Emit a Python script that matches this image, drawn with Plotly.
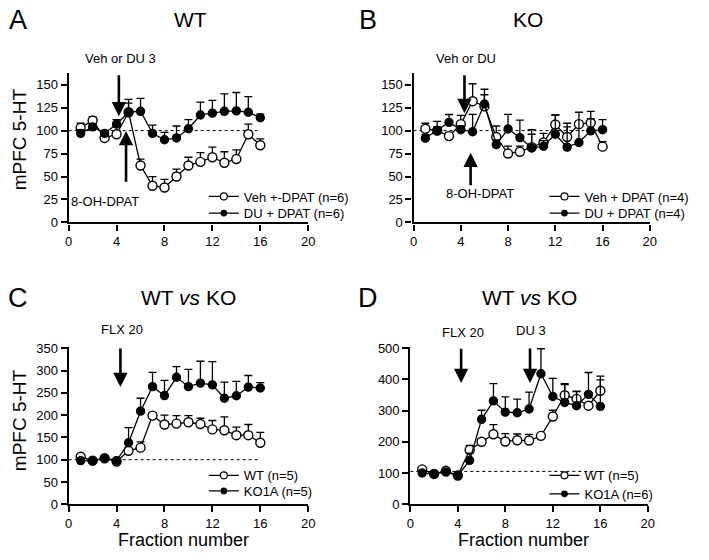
import plotly.graph_objects as go

W, H = 709, 560
FONT = "Arial, Liberation Sans, sans-serif"

fractions = list(range(1, 17))

# Panel A (WT)
vehA = [103, 111, 92, 96, 120, 62, 40, 38, 50, 62, 66, 71, 65, 69, 96, 84]
vehA_sem = [5, 4, 4, 4, 10, 7, 10, 9, 8, 9, 10, 11, 12, 10, 11, 7]
duA = [97, 104, 97, 107, 120, 121, 97, 90, 92, 102, 117, 119, 121, 121.5, 120, 114]
duA_sem = [4, 3, 3, 5, 14, 14, 9, 8, 13, 10, 14, 14, 19, 20, 17, 4]

# Panel B (KO)
vehB = [102, 100, 94, 107, 132, 126.5, 93, 75, 77, 82, 87, 106.6, 93, 107, 108.6, 82.5]
vehB_sem = [6, 10, 4, 9.5, 19, 18.5, 12, 8, 6, 14, 10, 10.4, 15, 3, 12.4, 5.5]
duB = [91.7, 100, 109, 101, 98.7, 129, 84.8, 101.7, 92.4, 81, 83, 96, 82, 87, 99.7, 101]
duB_sem = [4, 4, 8.5, 4, 19, 10, 5, 16, 19, 20, 6, 21, 22, 33, 13, 11]

# Panel C (WT vs KO, FLX 20)
wtC = [106.5, 98, 103, 96, 120, 127, 199, 179, 181, 184, 180, 168, 166, 155, 155, 138]
wtC_sem = [3, 3, 3, 3, 5, 13, 6, 21, 18, 15, 13, 20, 30, 18, 24, 23.5]
koC = [98, 97, 104, 98, 138, 209, 264, 244, 285, 264, 272, 268, 238, 243.5, 263, 261]
koC_sem = [3, 3, 3, 3, 34, 29, 32, 34, 24, 39, 49, 52, 36, 32.5, 26, 12]

# Panel D (WT vs KO, FLX 20 + DU 3)
wtD = [111.5, 97, 107, 92, 174, 200, 224, 201, 205, 204, 219, 281, 349, 337.5, 315.6, 363.5]
wtD_sem = [4, 4, 4, 4, 14.5, 10, 31, 25, 20, 20, 5, 20, 34, 23.5, 8, 47]
koD = [100, 97, 103, 92, 140.6, 272, 331, 295, 293, 305, 418, 345, 326, 315.6, 352, 313.5]
koD_sem = [4, 4, 4, 4, 23, 29, 55, 49, 43.5, 54, 80, 58, 60, 47, 70, 85]

x_ticks = [0, 4, 8, 12, 16, 20]


def px(x):
    return x / W


def py(y):
    return 1 - y / H


fig = go.Figure()

# key, x-domain px, y-domain px (top,bottom), y range, y tick step, series, legend tops (px)
panels = [
    ("1", (65.7, 309), (69, 222), [0, 162.4], 25,
     [("Veh +-DPAT (n=6)", vehA, vehA_sem, False), ("DU + DPAT (n=6)", duA, duA_sem, True)],
     (203, [180, 197])),
    ("2", (416, 656), (69, 222), [0, 162.4], 25,
     [("Veh + DPAT (n=4)", vehB, vehB_sem, False), ("DU + DPAT (n=4)", duB, duB_sem, True)],
     (549, [180, 197])),
    ("3", (65.7, 309), (349.3, 511), [0, 354], 50,
     [("WT (n=5)", wtC, wtC_sem, False), ("KO1A (n=5)", koC, koC_sem, True)],
     (203, [466, 482])),
    ("4", (412.7, 654), (349.3, 511), [0, 505], 100,
     [("WT (n=5)", wtD, wtD_sem, False), ("KO1A (n=6)", koD, koD_sem, True)],
     (549, [466, 485])),
]

layout = dict(
    width=W, height=H, margin=dict(l=0, r=0, t=0, b=0),
    paper_bgcolor="white", plot_bgcolor="white",
    font=dict(family=FONT, size=13, color="black"),
    showlegend=True,
)

shapes = []
leg_idx = 0
for key, xd, yd, yr, ystep, series, (lx, ltops) in panels:
    xa = "xaxis" if key == "1" else "xaxis" + key
    ya = "yaxis" if key == "1" else "yaxis" + key
    xref = "x" if key == "1" else "x" + key
    yref = "y" if key == "1" else "y" + key
    top = yr[1]
    layout[xa] = dict(
        domain=[px(xd[0]), px(xd[1])], range=[0, 20], anchor=yref,
        tickvals=x_ticks, showline=True, linewidth=2.2, linecolor="black",
        ticks="outside", ticklen=6, tickwidth=2, tickcolor="black",
        showgrid=False, zeroline=False, tickfont=dict(size=13, family=FONT),
    )
    layout[ya] = dict(
        domain=[py(yd[1]), py(yd[0])], range=yr, anchor=xref,
        tickvals=list(range(0, int(top) + 1, ystep)), showline=True, linewidth=2.2,
        linecolor="black", ticks="outside", ticklen=6, tickwidth=2, tickcolor="black",
        showgrid=False, zeroline=False, tickfont=dict(size=13, family=FONT),
    )
    base = 105 if key == "4" else 100
    shapes.append(dict(type="line", xref=xref, yref=yref, x0=0, x1=15.8, y0=base, y1=base,
                       line=dict(color="black", width=1, dash="dot"), layer="below"))
    for (name, vals, sem, filled), ltop in zip(series, ltops):
        leg_idx += 1
        leg = "legend" if leg_idx == 1 else "legend%d" % leg_idx
        fig.add_trace(go.Scatter(
            x=fractions, y=vals, name=name, mode="lines+markers",
            xaxis=xref, yaxis=yref, showlegend=False, cliponaxis=False,
            line=dict(color="black", width=1.3),
            marker=dict(symbol="circle", size=8 if filled else 9,
                        color="black" if filled else "white",
                        line=dict(color="black", width=1.4)),
            error_y=dict(type="data", array=sem, arrayminus=[0] * len(sem), symmetric=False,
                         color="black", thickness=1.3, width=4),
        ))
        # legend-only entry with the smaller symbol used in the key
        fig.add_trace(go.Scatter(
            x=[None], y=[None], name=name, mode="lines+markers",
            xaxis=xref, yaxis=yref, legend=leg, showlegend=True,
            line=dict(color="black", width=1.2),
            marker=dict(symbol="circle", size=5.5 if filled else 7,
                        color="black" if filled else "white",
                        line=dict(color="black", width=1.2)),
        ))
        layout[leg] = dict(x=px(lx), y=py(ltop), xanchor="left", yanchor="top",
                           bgcolor="rgba(0,0,0,0)", font=dict(size=13, family=FONT))

annotations = []


def text(x, y, t, size, **kw):
    annotations.append(dict(x=px(x), y=py(y), xref="paper", yref="paper", text=t,
                            xanchor="center", yanchor="middle",
                            showarrow=False, font=dict(size=size, family=FONT, color="black"), **kw))


text(14, 14, "A", 27)
text(189, 14, "WT", 21)
text(370, 14, "B", 27)
text(532, 14, "KO", 21)
text(14, 299, "C", 27)
text(187, 299, "WT <i>vs</i> KO", 21)
text(370, 299, "D", 27)
text(534, 299, "WT <i>vs</i> KO", 21)
text(16, 137, "mPFC 5-HT", 19, textangle=-90)
text(16, 425, "mPFC 5-HT", 19, textangle=-90)
text(182, 548, "Fraction number", 18)
text(528, 548, "Fraction number", 18)

# drug labels above the plots
text(118, 54, "Veh or DU 3", 13)
text(469, 54, "Veh or DU", 13)
text(120, 332, "FLX 20", 13)
text(466, 335, "FLX 20", 13)
text(535, 333, "DU 3", 13)


def arrow(xref, yref, x, y, ax, ay):
    annotations.append(dict(x=x, y=y, ax=ax, ay=ay, xref=xref, yref=yref, axref=xref, ayref=yref,
                            text="", showarrow=True, arrowhead=2, arrowsize=1.1, arrowwidth=2.6,
                            arrowcolor="black", standoff=0, startstandoff=0))


def label(xref, yref, x, y, t):
    annotations.append(dict(x=x, y=y, xref=xref, yref=yref, text=t, showarrow=False,
                            xanchor="center", yanchor="middle",
                            font=dict(size=13, family=FONT, color="black")))


arrow("x", "y", 4.19, 115.7, 4.19, 162)
arrow("x", "y", 4.79, 99.5, 4.79, 42.8)
label("x", "y", 3.07, 23, "8-OH-DPAT")
arrow("x2", "y2", 4.31, 119, 4.31, 162)
arrow("x2", "y2", 4.83, 76, 4.83, 39)
label("x2", "y2", 5.6, 31, "8-OH-DPAT")
arrow("x3", "y3", 4.32, 263, 4.32, 353)
arrow("x4", "y4", 4.28, 388, 4.28, 503)
arrow("x4", "y4", 10.08, 388, 10.08, 504)

layout["annotations"] = annotations
layout["shapes"] = shapes
fig.update_layout(**layout)
fig.write_html("out.html", config={"displayModeBar": False},
               post_script="document.body.style.margin='0';")
